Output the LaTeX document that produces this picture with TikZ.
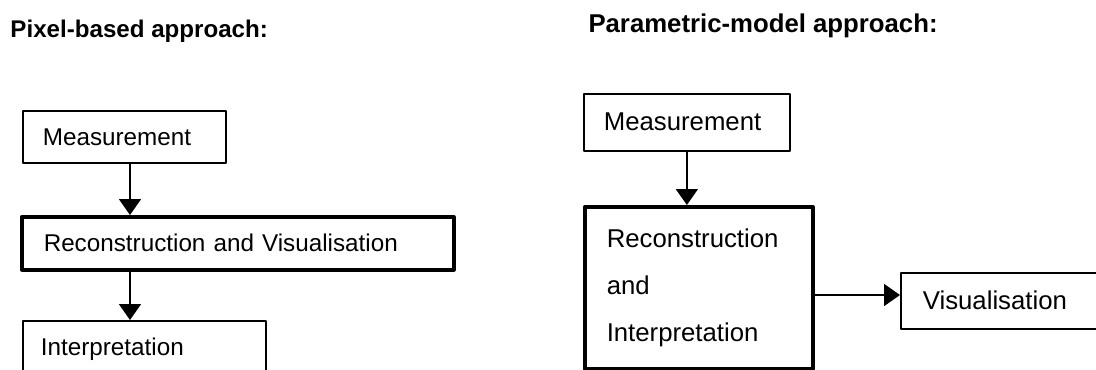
\documentclass[tikz,border=0pt]{standalone}
\usepackage{fontspec}
\setmainfont{Liberation Sans}
\usetikzlibrary{arrows.meta}
\begin{document}
\begin{tikzpicture}[x=0.4pt, y=-0.4pt, line join = round, >={Triangle[width=8.8pt,length=6.4pt]}, font=\fontsize{10.3}{18.8}\selectfont]
	\tikzset{box/.style={draw, line width=0.7pt, anchor=north west, align=left, inner ysep=0pt, text height=1.5ex, text depth=.25ex}}
	\tikzset{bigbox/.style={box, line width=1.4pt}}
	\tikzset{small/.style={font=\fontsize{9.7}{12}\selectfont}}
	\tikzset{title/.style={anchor=base west, inner sep=0pt, font=\fontsize{10.3}{12}\selectfont\bfseries}}
	\useasboundingbox (0,0) rectangle (1096,369);
	\clip (0,0) rectangle (1096,369);
	\path (130,0) coordinate (a1)
	(0,295) coordinate (a3)
	;
	% pixel-based
	\node[title, font=\fontsize{9.65}{12}\selectfont\bfseries] (t1) at (10,37) {Pixel-based approach:};
	\node[box, small, inner xsep=8pt, text width=65.2pt, minimum height=20.8pt] (meas1) at (22,110) {Measurement};
	\node[bigbox, small, inner xsep=8.8pt, text width=155.2pt, minimum height=21.2pt] (rec1) at (20,215) {Reconstruction and Visualisation};
	\node[box, small, inner xsep=7.2pt, text width=82.8pt, minimum height=20.8pt] (int1) at (22,320) {Interpretation};
	\draw[->, line width=0.7pt] (meas1.south -| a1) -- (rec1.north -| a1);
	\draw[->, line width=0.7pt] (rec1.south -| a1) -- (int1.north -| a1);
	% parametric-model
	\node[title] (t2) at (588,32) {Parametric-model approach:};
	\node[box, inner xsep=8pt, text width=66.4pt, minimum height=22.8pt] (meas2) at (583,93) {Measurement};
	\node[bigbox, inner xsep=8.8pt, text width=73.6pt, minimum height=64.8pt, text height=, text depth=] (rec2) at (583,205) {Reconstruction\\and\\Interpretation};
	\node[box, inner xsep=8.8pt, text width=110pt, minimum height=22.4pt] (vis2) at (900,272) {Visualisation};
	\draw[->, line width=0.7pt] (meas2.south) -- (meas2.south |- rec2.north);
	\draw[->, line width=0.7pt] (rec2.east |- a3) -- (vis2.west |- a3);
\end{tikzpicture}
\end{document}
